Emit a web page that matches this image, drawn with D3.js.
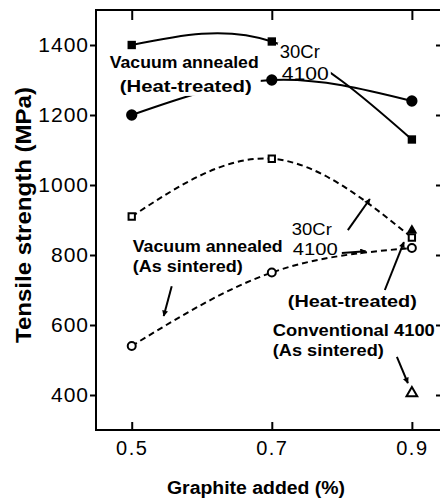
<!DOCTYPE html>
<html><head><meta charset="utf-8">
<script src="https://cdn.jsdelivr.net/npm/d3@7"></script>
<style>
body{margin:0;background:#fff;}
svg{display:block;font-family:"Liberation Sans",Arial,sans-serif;}
</style></head>
<body><svg id="c" width="440" height="500"></svg>
<script>
// ---- data ----
const graphite = [0.5, 0.7, 0.9];
const cr30HeatTreated = [1400, 1410, 1130];
const s4100HeatTreated = [1200, 1300, 1240];
const cr30AsSintered = [910, 1075, 850];
const s4100AsSintered = [540, 750, 820];
const convGraphite = [0.9];
const convHeatTreated = [870];
const convAsSintered = [405];
const yTicks = [400, 600, 800, 1000, 1200, 1400];
const xTicks = [0.5, 0.7, 0.9];

// annotation texts (data coords)
const labelTexts = ["Vacuum annealed","(Heat-treated)","30Cr","4100","30Cr","4100",
  "Vacuum annealed","(As sintered)","(Heat-treated)","Conventional 4100","(As sintered)"];
const labelX = [0.4686,0.4829,0.7114,0.7143,0.7286,0.7300,0.5014,0.5014,0.7229,0.7014,0.7014];
const labelY = [1334,1266,1363,1300,857,800,809,751,651,569,511];
const arrowFrom = [[0.8086,871],[0.800,806],[0.8614,700],[0.5571,711],[0.8786,509]];
const arrowTo   = [[0.8400,960],[0.834,811],[0.8886,837],[0.5457,626],[0.8943,434]];

// ---- layout ----
const svg = d3.select("#c");
const L = 96, R = 442, T = 10, B = 430;
const x = d3.scaleLinear().domain([0.449, 0.943]).range([L, R]);
const y = d3.scaleLinear().domain([300, 1500]).range([B, T]);

const defs = svg.append("defs");
defs.append("marker").attr("id","ah").attr("viewBox","0 0 10 10")
  .attr("refX",9).attr("refY",5).attr("markerWidth",9).attr("markerHeight",6)
  .attr("markerUnits","userSpaceOnUse").attr("orient","auto")
  .append("path").attr("d","M0,0 L10,5 L0,10 Z").attr("fill","#000");

const line = d3.line().x(d=>x(d[0])).y(d=>y(d[1])).curve(d3.curveNatural);
const pts = vals => graphite.map((g,i)=>[g, vals[i]]);

// layers
const gSq = svg.append("g");
const gBg1 = svg.append("g");
const gCirc = svg.append("g");
const gBg2 = svg.append("g");
const gDash = svg.append("g");
const gAxes = svg.append("g");
const gMarks = svg.append("g");
const gText = svg.append("g");
const gArr = svg.append("g");

gSq.append("path").attr("d", line(pts(cr30HeatTreated))).attr("fill","none").attr("stroke","#000").attr("stroke-width",2);
gCirc.append("path").attr("d", line(pts(s4100HeatTreated))).attr("fill","none").attr("stroke","#000").attr("stroke-width",2);
gDash.append("path").attr("d", line(pts(cr30AsSintered))).attr("fill","none").attr("stroke","#000").attr("stroke-width",2).attr("stroke-dasharray","6,4");
gDash.append("path").attr("d", line(pts(s4100AsSintered))).attr("fill","none").attr("stroke","#000").attr("stroke-width",2).attr("stroke-dasharray","6,4");

// axes
gAxes.append("rect").attr("x",L).attr("y",T).attr("width",R-L).attr("height",B-T)
  .attr("fill","none").attr("stroke","#000").attr("stroke-width",2);
const ax = (g)=>{g.select(".domain").remove(); g.selectAll("line").attr("stroke","#000").attr("stroke-width",2);};
gAxes.append("g").attr("transform",`translate(${L},0)`)
  .call(d3.axisLeft(y).tickValues(yTicks).tickFormat(d3.format("d")).tickSizeInner(6).tickSizeOuter(0).tickPadding(1))
  .call(ax).call(g=>g.selectAll("text").attr("font-size",21).attr("letter-spacing",1).attr("fill","#000").attr("font-family","Liberation Sans, Arial, sans-serif"));
gAxes.append("g").attr("transform",`translate(0,${B})`)
  .call(d3.axisBottom(x).tickValues(xTicks).tickFormat(d3.format(".1f")).tickSizeInner(-8).tickSizeOuter(0).tickPadding(11))
  .call(ax).call(g=>g.selectAll("text").attr("font-size",20).attr("letter-spacing",1.5).attr("fill","#000").attr("font-family","Liberation Sans, Arial, sans-serif"));
gAxes.append("g").attr("transform",`translate(0,${T})`)
  .call(d3.axisTop(x).tickValues(xTicks).tickFormat("").tickSizeInner(-10).tickSizeOuter(0)).call(ax);
gAxes.append("g").attr("transform",`translate(${R},0)`)
  .call(d3.axisRight(y).tickValues(yTicks).tickFormat("").tickSizeInner(-6).tickSizeOuter(0)).call(ax);

// axis titles
svg.append("text").attr("x",(L+R)/2 - 13).attr("y",494).attr("text-anchor","middle")
  .attr("font-size",18).attr("font-weight","bold").attr("textLength",178).attr("lengthAdjust","spacingAndGlyphs")
  .text("Graphite added (%)");
svg.append("text").attr("transform",`translate(31,${(T+B)/2 - 5}) rotate(-90)`).attr("text-anchor","middle")
  .attr("font-size",22).attr("font-weight","bold").attr("textLength",256).attr("lengthAdjust","spacingAndGlyphs")
  .text("Tensile strength (MPa)");

// markers
const sym = (type,size)=>d3.symbol().type(type).size(size)();
const addMarks = (xs, vals, type, size, filled) => gMarks.selectAll(null).data(xs.map((g,i)=>[g,vals[i]])).join("path")
  .attr("transform",d=>`translate(${x(d[0])},${y(d[1])})`).attr("d",sym(type,size))
  .attr("fill",filled?"#000":"#fff").attr("stroke","#000").attr("stroke-width",filled?0:2);
addMarks(graphite, cr30HeatTreated, d3.symbolSquare, 70, true);
addMarks(graphite, s4100HeatTreated, d3.symbolCircle, 100, true);
addMarks(graphite, cr30AsSintered, d3.symbolSquare, 40, false);
addMarks(graphite, s4100AsSintered, d3.symbolCircle, 50, false);
addMarks(convGraphite, convHeatTreated, d3.symbolTriangle, 50, true);
addMarks(convGraphite, convAsSintered, d3.symbolTriangle, 50, false);

// labels
const boldIdx = [0,1,6,7,8,9,10];
const widths = [149,132,40,47,40,45,150,110,129,162,111];
const sizes = [17,17,19,19,17,17,17,17,17,17,17];
const texts = labelTexts.map((t,i)=>gText.append("text")
  .attr("x",x(labelX[i])).attr("y",y(labelY[i]))
  .attr("font-size", sizes[i])
  .attr("font-weight", boldIdx.includes(i)?"bold":"normal")
  .attr("textLength",widths[i]).attr("lengthAdjust","spacingAndGlyphs")
  .text(t));
// white backgrounds hiding curves behind labels
function bg(layer, idxs, pad){
  let x0=1e9,y0=1e9,x1=-1e9,y1=-1e9;
  idxs.forEach(i=>{const b=texts[i].node().getBBox(); x0=Math.min(x0,b.x);y0=Math.min(y0,b.y);x1=Math.max(x1,b.x+b.width);y1=Math.max(y1,b.y+b.height);});
  layer.append("rect").attr("x",x0-pad).attr("y",y0+2).attr("width",x1-x0+2*pad).attr("height",y1-y0-2).attr("fill","#fff");
}
bg(gBg1,[2,3],2);
bg(gBg2,[0,1],2);

// arrows
gArr.selectAll(null).data(arrowFrom.map((f,i)=>[f,arrowTo[i]])).join("line")
  .attr("x1",d=>x(d[0][0])).attr("y1",d=>y(d[0][1])).attr("x2",d=>x(d[1][0])).attr("y2",d=>y(d[1][1]))
  .attr("stroke","#000").attr("stroke-width",2).attr("marker-end","url(#ah)");
</script></body></html>
